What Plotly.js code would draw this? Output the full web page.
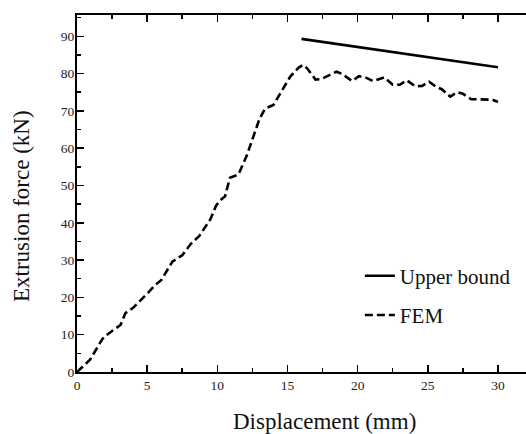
<!DOCTYPE html>
<html>
<head>
<meta charset="utf-8">
<script src="https://cdn.plot.ly/plotly-3.0.1.min.js"></script>
<style>
html,body{margin:0;padding:0;background:#fff;overflow:hidden;}
#chart{width:526px;height:434px;}
</style>
</head>
<body>
<div id="chart"></div>
<script>
// Upper bound solution
const upperX = [16, 30];
const upperY = [89.3, 81.7];

// FEM simulation
const femX = [0, 0.93, 1.8, 2.0, 2.5, 3.1, 3.45, 4.0, 5.0, 5.6, 6.0, 6.8, 7.5, 8.1, 8.7, 9.5, 9.9, 10.2, 10.55, 10.9, 11.5, 12.1, 13.0, 13.4, 14.0, 14.6, 15.2, 15.8, 16.1, 16.4, 17.0, 17.4, 18.5, 18.9, 19.6, 20.1, 20.6, 21.1, 21.9, 22.5, 23.0, 23.5, 24.1, 24.6, 25.1, 25.6, 26.0, 26.6, 27.1, 27.5, 28.1, 28.6, 29.2, 29.6, 30.0];
const femY = [0, 3.3, 8.8, 9.6, 11.0, 12.6, 15.8, 17.2, 21.0, 23.4, 24.6, 29.6, 31.3, 34.3, 36.4, 40.9, 44.5, 46.0, 47.1, 52.1, 52.9, 58.0, 67.8, 70.6, 71.6, 75.4, 79.2, 81.6, 82.3, 81.4, 78.4, 78.5, 80.5, 79.9, 78.0, 79.3, 78.9, 78.0, 79.0, 77.0, 77.0, 78.2, 76.6, 76.7, 77.8, 76.4, 75.8, 73.8, 75.0, 74.6, 73.1, 73.1, 73.1, 73.0, 72.4];

const xTickVals = [0, 5, 10, 15, 20, 25, 30];
const yTickVals = [0, 10, 20, 30, 40, 50, 60, 70, 80, 90];

const serif = '"Liberation Serif", "Times New Roman", serif';

const traces = [
  {
    x: upperX, y: upperY, type: 'scatter', mode: 'lines', name: 'Upper bound',
    legendgroup: 'a',
    line: {color: '#000', width: 2.6, dash: 'solid'}
  },
  {
    x: femX, y: femY, type: 'scatter', mode: 'lines', name: 'FEM',
    legendgroup: 'b',
    line: {color: '#000', width: 2.6, dash: '8px,4px'}
  }
];

function axis(extra) {
  return Object.assign({
    showgrid: false, zeroline: false,
    showline: true, linecolor: '#000', linewidth: 2,
    ticks: 'inside', ticklen: 7, tickwidth: 1.5, tickcolor: '#000',
    tickfont: {family: serif, size: 13.5, color: '#222'}
  }, extra);
}

const layout = {
  width: 526, height: 434,
  margin: {l: 77, r: 0, t: 15, b: 62},
  paper_bgcolor: '#fff', plot_bgcolor: '#fff',
  font: {family: serif, color: '#222'},
  showlegend: true,
  legend: {
    x: 0.63, y: 0.214, xanchor: 'left', yanchor: 'middle',
    bgcolor: 'rgba(0,0,0,0)', borderwidth: 0,
    font: {family: serif, size: 21, color: '#111'},
    traceorder: 'grouped', tracegroupgap: 9,
    itemwidth: 30
  },
  xaxis: axis({
    range: [0, 32], tickmode: 'array', tickvals: xTickVals,
    ticktext: xTickVals.map(String),
    mirror: 'ticks',
    minor: {ticks: 'inside', ticklen: 4, tickwidth: 1.5, tickcolor: '#000', dtick: 2.5, tick0: 0}
  }),
  yaxis: axis({
    range: [0, 95.7], tickmode: 'array', tickvals: yTickVals,
    ticktext: yTickVals.map(String),
    ticklabelstandoff: -2,
    minor: {ticks: 'inside', ticklen: 4, tickwidth: 1.5, tickcolor: '#000', dtick: 5, tick0: 0}
  }),
  annotations: [
    {text: 'Displacement (mm)', xref: 'paper', yref: 'paper', x: 0.552, y: -0.139,
     xanchor: 'center', yanchor: 'middle', showarrow: false,
     font: {family: serif, size: 23, color: '#111'}},
    {text: 'Extrusion force (kN)', xref: 'paper', yref: 'paper', x: -0.1225, y: 0.465,
     xanchor: 'center', yanchor: 'middle', showarrow: false, textangle: -90,
     font: {family: serif, size: 23, color: '#111'}}
  ]
};

Plotly.newPlot('chart', traces, layout, {displayModeBar: false, staticPlot: true});
</script>
</body>
</html>
